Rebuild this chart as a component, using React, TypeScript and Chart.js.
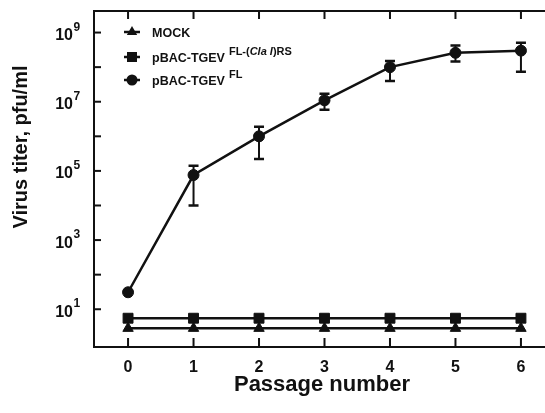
import React, { useEffect, useRef } from 'react';
import { Chart, registerables } from 'chart.js';
Chart.register(...registerables);

const passages = [0, 1, 2, 3, 4, 5, 6];
const flTiter = [31, 7.6e4, 1.0e6, 1.1e7, 1.0e8, 2.6e8, 3.0e8];
const flErrHigh = [null, 1.4e5, 1.9e6, 1.7e7, 1.5e8, 4.2e8, 5.1e8];
const flErrLow = [null, 1.0e4, 2.2e5, 5.9e6, 4.0e7, 1.45e8, 7.4e7];
const claiTiter = [5.5, 5.5, 5.5, 5.5, 5.5, 5.5, 5.5];
const mockTiter = [2.8, 2.8, 2.8, 2.8, 2.8, 2.8, 2.8];
const yTickExponents = [1, 2, 3, 4, 5, 6, 7, 8, 9];
const yLabelExponents = [1, 3, 5, 7, 9];
const xTickLabels = ['0', '1', '2', '3', '4', '5', '6'];
const xTitle = 'Passage number';
const yTitle = 'Virus titer, pfu/ml';
const legendBase = ['MOCK', 'pBAC-TGEV', 'pBAC-TGEV'];
const legendSup: [string, boolean][][] = [
  [],
  [['FL-(', false], ['Cla I', true], [')RS', false]],
  [['FL', false]],
];
const legendStyles = ['triangle', 'rect', 'circle'];

const INK = '#111';
const FONT = '"Liberation Sans", Arial, Helvetica, sans-serif';

const customPlugin = {
  id: 'customAxes',
  beforeDatasetsDraw(chart: any) {
    const ctx = chart.ctx;
    const xs = chart.scales.x;
    const ys = chart.scales.y;
    ctx.save();
    ctx.strokeStyle = INK;
    passages.forEach((p, i) => {
      const hi = flErrHigh[i];
      const lo = flErrLow[i];
      if (hi == null || lo == null) return;
      const x = xs.getPixelForValue(p);
      const yh = ys.getPixelForValue(hi);
      const yl = ys.getPixelForValue(lo);
      ctx.lineWidth = 2;
      ctx.beginPath();
      ctx.moveTo(x, yh);
      ctx.lineTo(x, yl);
      ctx.stroke();
      ctx.lineWidth = 2.5;
      ctx.beginPath();
      ctx.moveTo(x - 5, yh);
      ctx.lineTo(x + 5, yh);
      ctx.moveTo(x - 5, yl);
      ctx.lineTo(x + 5, yl);
      ctx.stroke();
    });
    ctx.restore();
  },
  afterDraw(chart: any) {
    const ctx = chart.ctx;
    const xs = chart.scales.x;
    const ys = chart.scales.y;
    const { left, right, top, bottom } = chart.chartArea;
    ctx.save();
    ctx.strokeStyle = INK;
    ctx.fillStyle = INK;
    ctx.lineWidth = 2;
    ctx.strokeRect(left, top, right - left, bottom - top);
    // y ticks (inward)
    yTickExponents.forEach((e) => {
      const y = ys.getPixelForValue(Math.pow(10, e));
      ctx.beginPath();
      ctx.moveTo(left, y);
      ctx.lineTo(left + 7, y);
      ctx.stroke();
    });
    // x ticks (inward, bottom and top)
    passages.forEach((p) => {
      const x = xs.getPixelForValue(p);
      ctx.beginPath();
      ctx.moveTo(x, bottom);
      ctx.lineTo(x, bottom - 9);
      ctx.moveTo(x, top);
      ctx.lineTo(x, top + 8);
      ctx.stroke();
    });
    // y labels 10^e
    yLabelExponents.forEach((e) => {
      const y = ys.getPixelForValue(Math.pow(10, e));
      ctx.font = `bold 16px ${FONT}`;
      ctx.textAlign = 'right';
      ctx.textBaseline = 'alphabetic';
      ctx.fillText('10', left - 21, y + 7.5);
      ctx.font = `bold 12px ${FONT}`;
      ctx.textAlign = 'left';
      ctx.fillText(String(e), left - 20.5, y - 2);
    });
    // x labels
    ctx.font = `bold 16px ${FONT}`;
    ctx.textAlign = 'center';
    passages.forEach((p, i) => {
      const x = xs.getPixelForValue(p);
      ctx.fillText(xTickLabels[i], x, bottom + 25);
    });
    // x title
    ctx.font = `bold 22px ${FONT}`;
    ctx.fillText(xTitle, 322, bottom + 44);
    // y title
    ctx.save();
    ctx.translate(27, 147);
    ctx.rotate(-Math.PI / 2);
    ctx.font = `bold 20px ${FONT}`;
    ctx.textAlign = 'center';
    ctx.fillText(yTitle, 0, 0);
    ctx.restore();
    // legend
    const rowY = [32, 57, 80];
    legendBase.forEach((base, i) => {
      const cy = rowY[i];
      ctx.lineWidth = 2.5;
      ctx.beginPath();
      ctx.moveTo(left + 30, cy);
      ctx.lineTo(left + 46, cy);
      ctx.stroke();
      const style = legendStyles[i];
      ctx.beginPath();
      if (style === 'circle') {
        ctx.arc(left + 38, cy, 5.5, 0, Math.PI * 2);
      } else if (style === 'rect') {
        ctx.rect(left + 33, cy - 5, 10, 10);
      } else {
        const r = 6;
        ctx.moveTo(left + 38, cy - r);
        ctx.lineTo(left + 38 + r * 0.866, cy + r * 0.5);
        ctx.lineTo(left + 38 - r * 0.866, cy + r * 0.5);
        ctx.closePath();
      }
      ctx.fill();
      ctx.font = `bold 12.5px ${FONT}`;
      ctx.textAlign = 'left';
      const tx = left + 58;
      ctx.fillText(base, tx, cy + 4.5);
      let sx = tx + ctx.measureText(base).width + 4;
      legendSup[i].forEach(([txt, ital]) => {
        ctx.font = `${ital ? 'italic ' : ''}bold 11px ${FONT}`;
        ctx.fillText(txt, sx, cy - 2);
        sx += ctx.measureText(txt).width;
      });
    });
    ctx.restore();
  },
};

export default function App() {
  const ref = useRef<HTMLCanvasElement>(null);
  useEffect(() => {
    if (!ref.current) return;
    const mk = (vals: number[]) => passages.map((x, i) => ({ x, y: vals[i] }));
    const common = {
      borderColor: INK,
      backgroundColor: INK,
      pointBackgroundColor: INK,
      pointBorderColor: INK,
      borderWidth: 2.5,
      pointBorderWidth: 1,
      tension: 0,
    };
    const chart = new Chart(ref.current, {
      type: 'line',
      data: {
        datasets: [
          { ...common, label: 'MOCK', data: mk(mockTiter), pointStyle: 'triangle', pointRadius: 6 },
          { ...common, label: 'pBAC-TGEV FL-(ClaI)RS', data: mk(claiTiter), pointStyle: 'rect', pointRadius: 7 },
          { ...common, label: 'pBAC-TGEV FL', data: mk(flTiter), pointStyle: 'circle', pointRadius: 5.5 },
        ],
      },
      options: {
        animation: false,
        responsive: false,
        layout: { padding: { left: 94, top: 11, right: 10, bottom: 66 } },
        scales: {
          x: { type: 'linear', min: -0.52, max: 6.52, display: false },
          y: { type: 'logarithmic', min: 0.81, max: 4.2e9, display: false },
        },
        plugins: { legend: { display: false }, tooltip: { enabled: false } },
      },
      plugins: [customPlugin],
    } as any);
    return () => chart.destroy();
  }, []);
  return (
    <div style={{ position: 'fixed', left: 0, top: 0, width: 545, height: 413, overflow: 'hidden', background: '#fff' }}>
      <canvas ref={ref} width={565} height={413} style={{ display: 'block' }} />
    </div>
  );
}
